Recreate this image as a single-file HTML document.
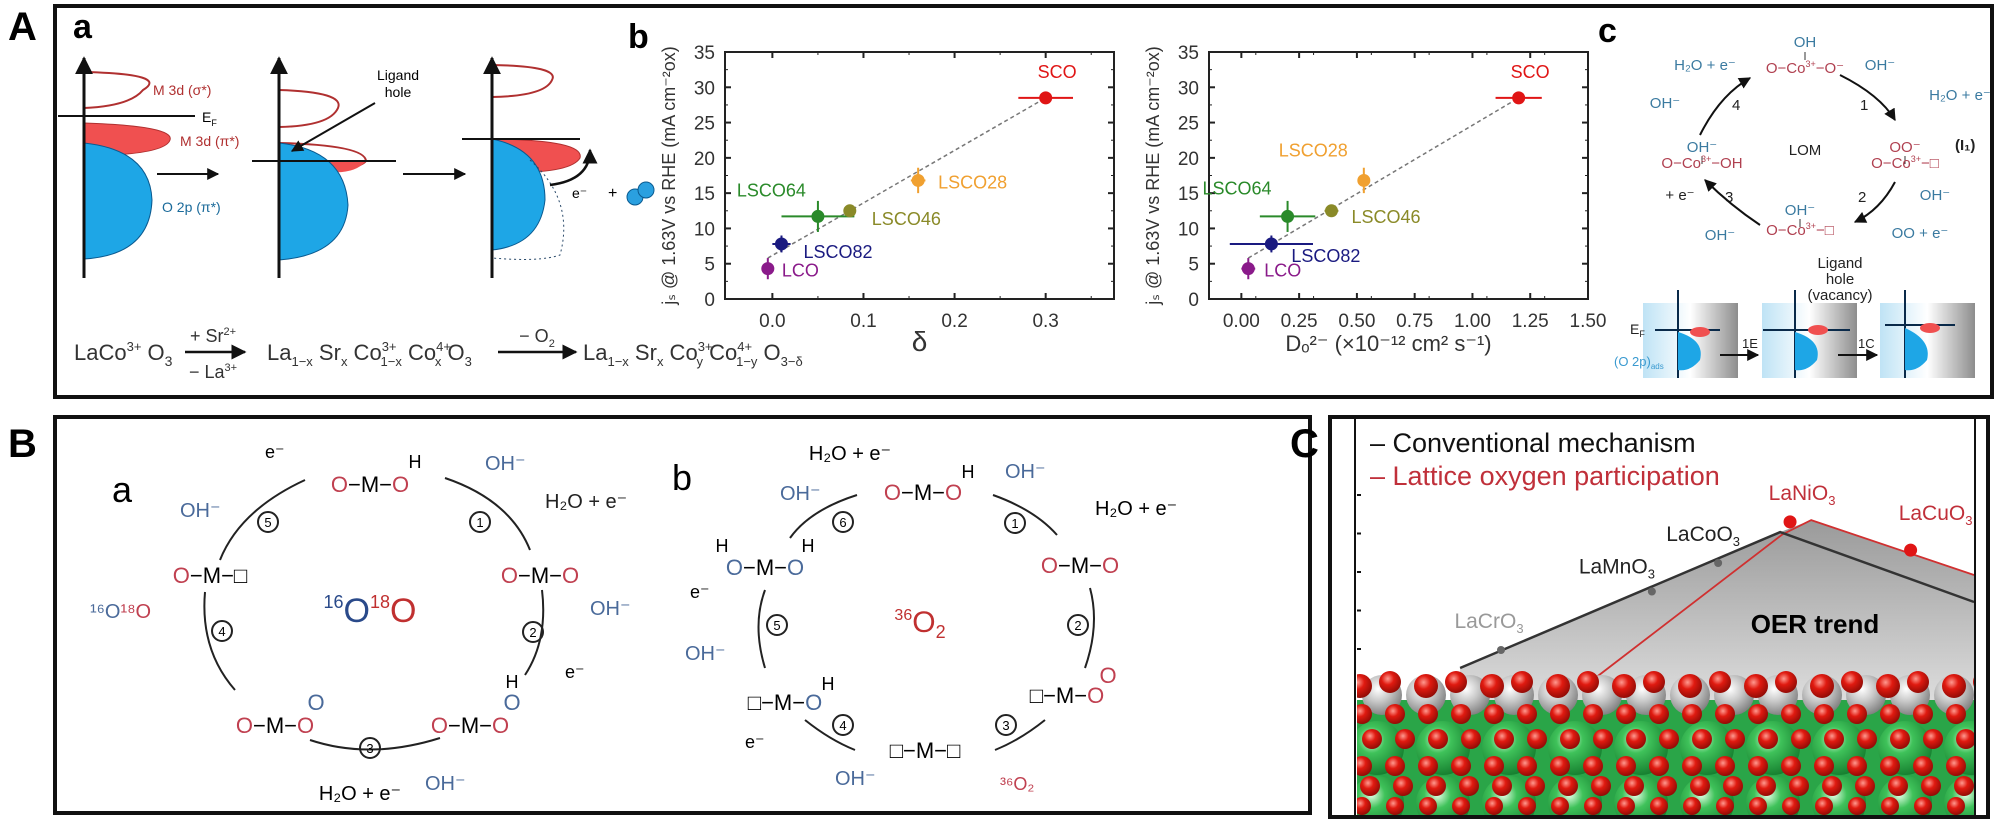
<!DOCTYPE html>
<html><head><meta charset="utf-8">
<style>
html,body{margin:0;padding:0;background:#fff;}
svg{display:block;font-family:"Liberation Sans",sans-serif;}
</style></head>
<body>
<svg id="fig" width="2001" height="823" viewBox="0 0 2001 823" xmlns="http://www.w3.org/2000/svg">
<defs>
<marker id="ah" viewBox="0 0 10 10" refX="9" refY="5" markerWidth="6" markerHeight="6" orient="auto"><path d="M0,0L10,5L0,10z" fill="#111"/></marker>
<linearGradient id="oerg" x1="0" y1="0" x2="0" y2="1"><stop offset="0" stop-color="#9a9a9a"/><stop offset="1" stop-color="#f6f6f6"/></linearGradient>
<linearGradient id="bandg" x1="0" y1="0" x2="1" y2="0"><stop offset="0" stop-color="#bfe3f5"/><stop offset="0.5" stop-color="#ffffff"/><stop offset="1" stop-color="#8d8d8d"/></linearGradient>
<radialGradient id="green" cx="0.4" cy="0.35" r="0.7"><stop offset="0" stop-color="#e6ffe8"/><stop offset="0.35" stop-color="#3fc25a"/><stop offset="1" stop-color="#137a2c"/></radialGradient>
<radialGradient id="red" cx="0.4" cy="0.35" r="0.7"><stop offset="0" stop-color="#ff9a90"/><stop offset="0.4" stop-color="#e01a10"/><stop offset="1" stop-color="#8a0a05"/></radialGradient>
<radialGradient id="gray" cx="0.4" cy="0.35" r="0.7"><stop offset="0" stop-color="#ffffff"/><stop offset="0.45" stop-color="#c8c8c8"/><stop offset="1" stop-color="#7a7a7a"/></radialGradient>
<clipPath id="cclip"><rect x="1357" y="419" width="618" height="396"/></clipPath>
</defs>

<text x="8" y="40" font-size="40" font-weight="bold">A</text>
<rect x="55" y="6" width="1937" height="391" fill="none" stroke="#111" stroke-width="4"/>
<text x="8" y="457" font-size="40" font-weight="bold">B</text>
<rect x="55" y="417" width="1255" height="396" fill="none" stroke="#111" stroke-width="4"/>
<text x="1290" y="457" font-size="40" font-weight="bold">C</text>
<rect x="1330" y="417" width="658" height="400" fill="none" stroke="#111" stroke-width="4"/>

<g>
<text x="73" y="38" font-size="34" font-weight="bold">a</text>
<path d="M84,72 Q170,74 143,90 Q130,106 84,108" fill="none" stroke="#b03030" stroke-width="2"/>
<path d="M84,123 Q175,126 170,140 Q165,155 84,156 Z" fill="#f05050" stroke="#b03030"/>
<path d="M84,143 Q150,150 152,200 Q150,255 84,259 Z" fill="#1ea6e6" stroke="#0a5a90"/>
<line x1="84" y1="278" x2="84" y2="58" stroke="#111" stroke-width="3" marker-end="url(#ah)"/>
<line x1="58" y1="116" x2="195" y2="116" stroke="#111" stroke-width="2"/>
<text x="153" y="95" font-size="14" fill="#b03030">M 3d (σ*)</text>
<text x="202" y="122" font-size="14">E<tspan font-size="9" dy="4">F</tspan></text>
<text x="180" y="146" font-size="14" fill="#b03030">M 3d (π*)</text>
<text x="162" y="212" font-size="14" fill="#1a6a9a">O 2p (π*)</text>
<line x1="157" y1="174" x2="218" y2="174" stroke="#111" stroke-width="2" marker-end="url(#ah)"/>
<path d="M279,90 Q345,92 338,108 Q330,126 279,127" fill="none" stroke="#b03030" stroke-width="2"/>
<path d="M279,143 Q365,145 366,161 Q355,174 279,170" fill="none" stroke="#b03030" stroke-width="2"/>
<path d="M330,161 L366,161 Q355,174 330,172 Z" fill="#f05050"/>
<path d="M279,143 Q345,150 348,205 Q345,255 279,260 Z" fill="#1ea6e6" stroke="#0a5a90"/>
<line x1="279" y1="278" x2="279" y2="58" stroke="#111" stroke-width="3" marker-end="url(#ah)"/>
<line x1="252" y1="161" x2="396" y2="161" stroke="#111" stroke-width="2"/>
<text x="398" y="80" font-size="14" text-anchor="middle">Ligand</text>
<text x="398" y="97" font-size="14" text-anchor="middle">hole</text>
<line x1="375" y1="103" x2="292" y2="151" stroke="#111" stroke-width="2" marker-end="url(#ah)"/>
<line x1="403" y1="174" x2="465" y2="174" stroke="#111" stroke-width="2" marker-end="url(#ah)"/>
<path d="M492,65 Q560,66 552,80 Q545,96 492,97" fill="none" stroke="#b03030" stroke-width="2"/>
<path d="M492,139 Q585,140 580,158 Q570,175 492,172 Z" fill="#f05050" stroke="#b03030"/>
<path d="M492,139 Q545,150 545,200 Q540,245 492,250 Z" fill="#1ea6e6" stroke="#0a5a90"/>
<path d="M530,160 Q575,200 560,255 Q540,262 492,258" fill="none" stroke="#2a4a6a" stroke-dasharray="2,3"/>
<line x1="492" y1="278" x2="492" y2="58" stroke="#111" stroke-width="3" marker-end="url(#ah)"/>
<line x1="462" y1="139" x2="580" y2="139" stroke="#111" stroke-width="2"/>
<path d="M550,185 Q590,180 590,150" fill="none" stroke="#111" stroke-width="2.5" marker-end="url(#ah)"/>
<text x="572" y="198" font-size="14">e⁻</text>
<text x="608" y="198" font-size="16">+</text>
<circle cx="635" cy="197" r="8" fill="#2aa0e0" stroke="#0a5a90"/>
<circle cx="646" cy="190" r="8" fill="#2aa0e0" stroke="#0a5a90"/>
</g>

<g font-size="22" fill="#333">
<text x="74" y="360">LaCo<tspan font-size="13" dy="-9">3+</tspan><tspan dy="9"> O</tspan><tspan font-size="14" dy="6">3</tspan></text>
<line x1="185" y1="352" x2="245" y2="352" stroke="#111" stroke-width="2.5" marker-end="url(#ah)"/>
<text x="213" y="342" font-size="18" text-anchor="middle">+ Sr<tspan font-size="11" dy="-7">2+</tspan></text>
<text x="213" y="378" font-size="18" text-anchor="middle">− La<tspan font-size="11" dy="-7">3+</tspan></text>
<text x="267" y="360">La<tspan font-size="13" dy="6">1−x</tspan><tspan dy="-6"> Sr</tspan><tspan font-size="13" dy="6">x</tspan><tspan dy="-6"> Co</tspan><tspan font-size="13" dy="-9">3+</tspan><tspan font-size="13" dx="-16" dy="15">1−x</tspan><tspan dy="-6"> Co</tspan><tspan font-size="13" dy="-9">4+</tspan><tspan font-size="13" dx="-16" dy="15">x</tspan><tspan dy="-6"> O</tspan><tspan font-size="13" dy="6">3</tspan></text>
<line x1="498" y1="352" x2="576" y2="352" stroke="#111" stroke-width="2.5" marker-end="url(#ah)"/>
<text x="537" y="342" font-size="18" text-anchor="middle">− O<tspan font-size="11" dy="5">2</tspan></text>
<text x="583" y="360">La<tspan font-size="13" dy="6">1−x</tspan><tspan dy="-6"> Sr</tspan><tspan font-size="13" dy="6">x</tspan><tspan dy="-6"> Co</tspan><tspan font-size="13" dy="-9">3+</tspan><tspan font-size="13" dx="-16" dy="15">y</tspan><tspan dy="-6"> Co</tspan><tspan font-size="13" dy="-9">4+</tspan><tspan font-size="13" dx="-16" dy="15">1−y</tspan><tspan dy="-6"> O</tspan><tspan font-size="13" dy="6">3−δ</tspan></text>
</g>

<text x="628" y="48" font-size="34" font-weight="bold">b</text>
<g id="chart1"></g>
<g id="chart2"></g>

<g font-size="15">
<text x="1598" y="42" font-size="34" font-weight="bold">c</text>
<text x="1805" y="47" text-anchor="middle" fill="#3a7aa0">OH</text>
<line x1="1805" y1="52" x2="1805" y2="60" stroke="#333"/>
<text x="1805" y="73" text-anchor="middle" fill="#b04050">O−Co<tspan font-size="9" dy="-6">3+</tspan><tspan dy="6">−O⁻</tspan></text>
<text x="1702" y="152" text-anchor="middle" fill="#3a7aa0">OH⁻</text>
<line x1="1702" y1="156" x2="1702" y2="164" stroke="#333"/>
<text x="1702" y="168" text-anchor="middle" fill="#b04050">O−Co<tspan font-size="9" dy="-6">3+</tspan><tspan dy="6">−OH</tspan></text>
<text x="1905" y="152" text-anchor="middle" fill="#b04050">OO⁻</text>
<text x="1955" y="150" font-weight="bold" fill="#222">(I₁)</text>
<line x1="1905" y1="156" x2="1905" y2="164" stroke="#333"/>
<text x="1905" y="168" text-anchor="middle" fill="#b04050">O−Co<tspan font-size="9" dy="-6">3+</tspan><tspan dy="6">−□</tspan></text>
<text x="1800" y="215" text-anchor="middle" fill="#3a7aa0">OH⁻</text>
<line x1="1800" y1="219" x2="1800" y2="227" stroke="#333"/>
<text x="1800" y="235" text-anchor="middle" fill="#b04050">O−Co<tspan font-size="9" dy="-6">3+</tspan><tspan dy="6">−□</tspan></text>
<text x="1805" y="155" text-anchor="middle" fill="#222">LOM</text>
<text x="1705" y="70" text-anchor="middle" fill="#3a7aa0">H₂O + e⁻</text>
<text x="1880" y="70" text-anchor="middle" fill="#3a7aa0">OH⁻</text>
<text x="1960" y="100" text-anchor="middle" fill="#3a7aa0">H₂O + e⁻</text>
<text x="1665" y="108" text-anchor="middle" fill="#3a7aa0">OH⁻</text>
<text x="1732" y="110" fill="#222">4</text><text x="1860" y="110" fill="#222">1</text>
<text x="1725" y="202" fill="#222">3</text><text x="1858" y="202" fill="#222">2</text>
<text x="1680" y="200" text-anchor="middle" fill="#222">+ e⁻</text>
<text x="1935" y="200" text-anchor="middle" fill="#3a7aa0">OH⁻</text>
<text x="1720" y="240" text-anchor="middle" fill="#3a7aa0">OH⁻</text>
<text x="1920" y="238" text-anchor="middle" fill="#3a7aa0">OO + e⁻</text>
<path d="M1840,75 Q1880,95 1895,120" fill="none" stroke="#111" stroke-width="2" marker-end="url(#ah)"/>
<path d="M1895,182 Q1880,210 1855,222" fill="none" stroke="#111" stroke-width="2" marker-end="url(#ah)"/>
<path d="M1760,225 Q1730,205 1705,180" fill="none" stroke="#111" stroke-width="2" marker-end="url(#ah)"/>
<path d="M1700,135 Q1720,95 1750,78" fill="none" stroke="#111" stroke-width="2" marker-end="url(#ah)"/>
<text x="1840" y="268" text-anchor="middle" fill="#222">Ligand</text>
<text x="1840" y="284" text-anchor="middle" fill="#222">hole</text>
<text x="1840" y="300" text-anchor="middle" fill="#222">(vacancy)</text>
<rect x="1643" y="303" width="95" height="75" fill="url(#bandg)"/>
<rect x="1762" y="303" width="95" height="75" fill="url(#bandg)"/>
<rect x="1880" y="303" width="95" height="75" fill="url(#bandg)"/>
<g stroke="#0a2a4a" stroke-width="2">
<line x1="1678" y1="378" x2="1678" y2="290"/><line x1="1795" y1="378" x2="1795" y2="290"/><line x1="1905" y1="378" x2="1905" y2="290"/>
<line x1="1655" y1="330" x2="1720" y2="330"/><line x1="1763" y1="330" x2="1850" y2="330"/><line x1="1885" y1="325" x2="1955" y2="325"/>
</g>
<path d="M1678,332 Q1705,340 1700,360 Q1690,372 1678,370Z" fill="#1ea6e6"/>
<path d="M1795,332 Q1822,340 1817,360 Q1807,372 1795,370Z" fill="#1ea6e6"/>
<path d="M1905,328 Q1932,340 1927,360 Q1917,372 1905,370Z" fill="#1ea6e6"/>
<ellipse cx="1700" cy="332" rx="10" ry="5" fill="#f05050"/><ellipse cx="1818" cy="330" rx="10" ry="5" fill="#f05050"/><ellipse cx="1930" cy="328" rx="10" ry="5" fill="#f05050"/>
<text x="1630" y="334" font-size="14" fill="#222">E<tspan font-size="9" dy="3">F</tspan></text>
<text x="1614" y="366" font-size="13" fill="#3a9ad0">(O 2p)<tspan font-size="8" dy="3">ads</tspan></text>
<text x="1742" y="348" font-size="13" fill="#222">1E</text>
<text x="1858" y="348" font-size="13" fill="#222">1C</text>
<line x1="1720" y1="355" x2="1758" y2="355" stroke="#111" stroke-width="2" marker-end="url(#ah)"/>
<line x1="1838" y1="355" x2="1877" y2="355" stroke="#111" stroke-width="2" marker-end="url(#ah)"/>
</g>

<g font-size="22">
<text x="112" y="502" font-size="36">a</text>
<text x="370" y="492" text-anchor="middle"><tspan fill="#c04050">O</tspan>−M−<tspan fill="#c04050">O</tspan></text>
<text x="415" y="468" font-size="18" text-anchor="middle">H</text>
<text x="210" y="583" text-anchor="middle"><tspan fill="#c04050">O</tspan>−M−□</text>
<text x="540" y="583" text-anchor="middle"><tspan fill="#c04050">O</tspan>−M−<tspan fill="#c04050">O</tspan></text>
<text x="275" y="733" text-anchor="middle"><tspan fill="#c04050">O</tspan>−M−<tspan fill="#c04050">O</tspan></text>
<text x="316" y="710" text-anchor="middle" fill="#4a6a9a">O</text>
<text x="470" y="733" text-anchor="middle"><tspan fill="#c04050">O</tspan>−M−<tspan fill="#c04050">O</tspan></text>
<text x="512" y="710" text-anchor="middle" fill="#4a6a9a">O</text>
<text x="512" y="688" font-size="18" text-anchor="middle">H</text>
<text x="370" y="622" font-size="34" text-anchor="middle"><tspan font-size="18" dy="-14" fill="#2a4a8a">16</tspan><tspan dy="14" fill="#2a4a8a">O</tspan><tspan font-size="18" dy="-14" fill="#c03030">18</tspan><tspan dy="14" fill="#c03030">O</tspan></text>
<text x="485" y="470" font-size="20" fill="#4a6a9a">OH⁻</text>
<text x="545" y="508" font-size="20" fill="#222">H₂O + e⁻</text>
<text x="590" y="615" font-size="20" fill="#4a6a9a">OH⁻</text>
<text x="565" y="678" font-size="18">e⁻</text>
<text x="360" y="800" font-size="20" text-anchor="middle">H₂O + e⁻</text>
<text x="425" y="790" font-size="20" fill="#4a6a9a">OH⁻</text>
<text x="180" y="517" font-size="20" fill="#4a6a9a">OH⁻</text>
<text x="265" y="458" font-size="18">e⁻</text>
<text x="90" y="618" font-size="20"><tspan fill="#4a6a9a">¹⁶O</tspan><tspan fill="#c04050">¹⁸O</tspan></text>
<g fill="none" stroke="#222" stroke-width="2">
<path d="M445,478 Q510,500 530,550"/><path d="M220,560 Q240,510 305,480"/>
<path d="M542,590 Q548,640 525,675"/><path d="M205,592 Q200,650 235,690"/>
<path d="M310,740 Q370,760 440,738"/>
<circle cx="480" cy="522" r="10"/><circle cx="533" cy="632" r="10"/><circle cx="370" cy="748" r="10"/><circle cx="222" cy="631" r="10"/><circle cx="268" cy="522" r="10"/>
</g>
<g font-size="13" text-anchor="middle"><text x="480" y="527">1</text><text x="533" y="637">2</text><text x="370" y="753">3</text><text x="222" y="636">4</text><text x="268" y="527">5</text></g>
</g>

<g font-size="22">
<text x="672" y="490" font-size="36">b</text>
<text x="923" y="500" text-anchor="middle"><tspan fill="#c04050">O</tspan>−M−<tspan fill="#c04050">O</tspan></text>
<text x="968" y="478" font-size="18" text-anchor="middle">H</text>
<text x="1080" y="573" text-anchor="middle"><tspan fill="#c04050">O</tspan>−M−<tspan fill="#c04050">O</tspan></text>
<text x="765" y="575" text-anchor="middle"><tspan fill="#4a6a9a">O</tspan>−M−<tspan fill="#4a6a9a">O</tspan></text>
<text x="722" y="552" font-size="18" text-anchor="middle">H</text><text x="808" y="552" font-size="18" text-anchor="middle">H</text>
<text x="920" y="632" font-size="30" text-anchor="middle" fill="#c03030"><tspan font-size="16" dy="-12">36</tspan><tspan dy="12">O</tspan><tspan font-size="18" dy="6">2</tspan></text>
<text x="1067" y="703" text-anchor="middle">□−M−<tspan fill="#c04050">O</tspan></text>
<text x="1108" y="683" text-anchor="middle" fill="#c04050">O</text>
<text x="925" y="758" text-anchor="middle">□−M−□</text>
<text x="785" y="710" text-anchor="middle">□−M−<tspan fill="#4a6a9a">O</tspan></text>
<text x="828" y="690" font-size="18" text-anchor="middle">H</text>
<text x="850" y="460" font-size="20" text-anchor="middle">H₂O + e⁻</text>
<text x="780" y="500" font-size="20" fill="#4a6a9a">OH⁻</text>
<text x="1005" y="478" font-size="20" fill="#4a6a9a">OH⁻</text>
<text x="1095" y="515" font-size="20">H₂O + e⁻</text>
<text x="690" y="598" font-size="18">e⁻</text>
<text x="685" y="660" font-size="20" fill="#4a6a9a">OH⁻</text>
<text x="745" y="748" font-size="18">e⁻</text>
<text x="835" y="785" font-size="20" fill="#4a6a9a">OH⁻</text>
<text x="1000" y="790" font-size="18" fill="#c04050">³⁶O₂</text>
<g fill="none" stroke="#222" stroke-width="2">
<path d="M993,495 Q1035,510 1057,535"/><path d="M790,538 Q810,510 857,495"/>
<path d="M1090,588 Q1100,625 1085,668"/><path d="M765,590 Q752,625 765,668"/>
<path d="M995,750 Q1020,740 1045,720"/><path d="M855,750 Q830,740 805,720"/>
<circle cx="1015" cy="523" r="10"/><circle cx="1078" cy="625" r="10"/><circle cx="1006" cy="725" r="10"/><circle cx="843" cy="725" r="10"/><circle cx="777" cy="625" r="10"/><circle cx="843" cy="522" r="10"/>
</g>
<g font-size="13" text-anchor="middle"><text x="1015" y="528">1</text><text x="1078" y="630">2</text><text x="1006" y="730">3</text><text x="843" y="730">4</text><text x="777" y="630">5</text><text x="843" y="527">6</text></g>
</g>

<g id="panelC">
<g id="oerChart" clip-path="url(#cclip)"></g>
<g id="atoms" clip-path="url(#cclip)"></g>
<line x1="1355" y1="419" x2="1355" y2="815" stroke="#111" stroke-width="2"/>
<line x1="1975" y1="419" x2="1975" y2="815" stroke="#111" stroke-width="2"/>
<text x="1370" y="452" font-size="27" fill="#111">– Conventional mechanism</text>
<text x="1370" y="485" font-size="27" fill="#c0303a">– Lattice oxygen participation</text>
<text x="1815" y="633" font-size="26" font-weight="bold" text-anchor="middle">OER trend</text>
</g>
</svg>

<script>
var samples = ["LCO","LSCO82","LSCO64","LSCO46","LSCO28","SCO"];
var colors = ["#8a1a8a","#1a1a80","#2a8a2a","#8a8a28","#f0a030","#e01515"];
var jVals = [4.3, 7.8, 11.7, 12.5, 16.8, 28.5];
var jErr = [1.5, 1.2, 2.2, 0.6, 1.8, 0.6];
var deltaVals = [-0.005, 0.01, 0.05, 0.085, 0.16, 0.30];
var deltaErr = [0.004, 0.01, 0.04, 0.005, 0.008, 0.03];
var diffVals = [0.03, 0.13, 0.20, 0.39, 0.53, 1.20];
var diffErr = [0.03, 0.18, 0.12, 0.03, 0.02, 0.1];
var yTicks = [0,5,10,15,20,25,30,35];
var deltaTicks = ["0.0","0.1","0.2","0.3"];
var diffTicks = ["0.00","0.25","0.50","0.75","1.00","1.25","1.50"];
// Panel C data (descriptor position, activity)
var oerMaterials = ["LaCrO3","LaMnO3","LaCoO3","LaNiO3","LaCuO3"];
var oerDescriptor = [1.0, 3.14, 4.08, 5.1, 6.81];
var oerActivity = [3.0, 4.95, 5.9, 7.27, 6.33];
var oerIsLattice = [false, false, false, true, true];
var convLineX = [0.42, 4.96, 7.71];
var convLineY = [2.4, 6.93, 4.6];
var latLineX = [2.3, 4.99, 5.4, 7.71];
var latLineY = [2.0, 6.85, 7.33, 5.5];

var NS="http://www.w3.org/2000/svg";
function mk(tag, attrs, parent){var e=document.createElementNS(NS,tag);for(var k in attrs)e.setAttribute(k,attrs[k]);parent.appendChild(e);return e;}
function drawChart(g, cfg){
  var L=cfg.L,R=cfg.R,T=52,B=299;
  function sx(v){return L+(v-cfg.x0)/(cfg.x1-cfg.x0)*(R-L);}
  function sy(v){return B-(v/35)*(B-T);}
  mk("rect",{x:L,y:T,width:R-L,height:B-T,fill:"none",stroke:"#222","stroke-width":2},g);
  yTicks.forEach(function(v){
    var t=mk("text",{x:L-10,y:sy(v)+7,"font-size":19,"text-anchor":"end",fill:"#333"},g);t.textContent=v;
    mk("line",{x1:L,y1:sy(v),x2:L+6,y2:sy(v),stroke:"#222","stroke-width":2},g);
    mk("line",{x1:R,y1:sy(v),x2:R-6,y2:sy(v),stroke:"#222","stroke-width":2},g);
    if(v!==35){mk("line",{x1:L,y1:sy(v+2.5),x2:L+3,y2:sy(v+2.5),stroke:"#222"},g);mk("line",{x1:R,y1:sy(v+2.5),x2:R-3,y2:sy(v+2.5),stroke:"#222"},g);}
  });
  cfg.ticks.forEach(function(s){
    var v=parseFloat(s);
    var t=mk("text",{x:sx(v),y:B+28,"font-size":19,"text-anchor":"middle",fill:"#333"},g);t.textContent=s;
    mk("line",{x1:sx(v),y1:B,x2:sx(v),y2:B-6,stroke:"#222","stroke-width":2},g);
    mk("line",{x1:sx(v),y1:T,x2:sx(v),y2:T+6,stroke:"#222","stroke-width":2},g);
    var h=v+cfg.step/2; if(h < cfg.x1){mk("line",{x1:sx(h),y1:B,x2:sx(h),y2:B-3,stroke:"#222"},g);mk("line",{x1:sx(h),y1:T,x2:sx(h),y2:T+3,stroke:"#222"},g);}
  });
  mk("line",{x1:sx(cfg.xs[0]),y1:sy(jVals[0]+1.5),x2:sx(cfg.xs[5]),y2:sy(jVals[5]),stroke:"#777","stroke-width":1.5,"stroke-dasharray":"4,3"},g);
  for(var i=0;i!==samples.length;i++){
    var x=sx(cfg.xs[i]),y=sy(jVals[i]),c=colors[i];
    var pt=mk("g",{},g);
    
    
    mk("line",{x1:sx(cfg.xs[i]-cfg.xe[i]),y1:y,x2:sx(cfg.xs[i]+cfg.xe[i]),y2:y,stroke:c,"stroke-width":2},pt);
    mk("line",{x1:x,y1:sy(jVals[i]-jErr[i]),x2:x,y2:sy(jVals[i]+jErr[i]),stroke:c,"stroke-width":2},pt);
    mk("circle",{cx:x,cy:y,r:6.5,fill:c},pt);
    var lp=cfg.lab[i];
    var t=mk("text",{x:x+lp[0],y:y+lp[1],"font-size":18,fill:c,"text-anchor":lp[2]||"start"},pt);t.textContent=samples[i];
  }
  var yl=mk("text",{x:0,y:0,"font-size":18,fill:"#333","text-anchor":"middle",transform:"translate("+(L-50)+","+((T+B)/2)+") rotate(-90)"},g);
  yl.textContent="j\u209B @ 1.63V vs RHE (mA cm\u207B\u00B2ox)";
  
  var xl=mk("text",{x:(L+R)/2+cfg.xlOff,y:B+52,"font-size":cfg.xlSize,fill:"#333","text-anchor":"middle"},g);
  xl.textContent=cfg.xlabel;
  
}
drawChart(document.getElementById("chart1"),{L:725,R:1114,x0:-0.052,x1:0.375,step:0.1,ticks:deltaTicks,xs:deltaVals,xe:deltaErr,
  lab:[[14,8],[22,14],[-12,-20,"end"],[22,14],[20,8],[-8,-20,"start"]],xlabel:"δ",xlOff:0,xlSize:28});
drawChart(document.getElementById("chart2"),{L:1209,R:1588,x0:-0.14,x1:1.5,step:0.125,ticks:diffTicks,xs:diffVals,xe:diffErr,
  lab:[[16,8],[20,18],[-16,-22,"end"],[20,12],[-16,-24,"end"],[-8,-20,"start"]],xlabel:"D\u2092\u00B2\u207B (\u00D710\u207B\u00B9\u00B2 cm\u00B2 s\u207B\u00B9)",xlOff:-10,xlSize:22});

(function(){
  var g=document.getElementById("oerChart");
  function sx(v){return 1501+(v-1)*70.5;}
  function sy(v){return 740-v*30;}
  function pts(xs,ys){var s=[];for(var i=0;i!==xs.length;i++)s.push(sx(xs[i])+","+sy(ys[i]));return s.join(" ");}
  for(var k=1;k!==7;k++){mk("line",{x1:1355,y1:495+(k-1)*38.5,x2:1361,y2:495+(k-1)*38.5,stroke:"#111","stroke-width":2},g);}
  // gray area under the envelope of both trend lines
  var fill="M"+sx(convLineX[0])+","+sy(convLineY[0])+" L"+sx(convLineX[1])+","+sy(convLineY[1])+" L"+sx(latLineX[2])+","+sy(latLineY[2])+" L"+sx(latLineX[3])+","+sy(latLineY[3])+" L"+sx(latLineX[3])+",770 L"+sx(convLineX[0])+",770Z";
  mk("path",{d:fill,fill:"url(#oerg)"},g);
  var rl=mk("polyline",{points:pts(latLineX,latLineY),fill:"none",stroke:"#d03030","stroke-width":1.8},g);
  
  var bl=mk("polyline",{points:pts(convLineX,convLineY),fill:"none",stroke:"#333","stroke-width":2.5},g);
  
  var labOff=[[-12,-22],[-35,-18],[-15,-22],[12,-22],[25,-30]];
  var labCol=["#999","#222","#222","#c0303a","#c0303a"];
  for(var i=0;i!==oerMaterials.length;i++){
    var lat=oerIsLattice[i];
    var x=sx(oerDescriptor[i]), y=sy(oerActivity[i]);
    var c=mk("circle",{cx:x,cy:y,r:lat?6.5:4,fill:lat?"#e01515":"#666"},g);
    
    var t=mk("text",{x:x+labOff[i][0],y:y+labOff[i][1],"font-size":21,fill:labCol[i],"text-anchor":"middle"},g);
    t.textContent=oerMaterials[i].slice(0,-1); var s=mk("tspan",{"font-size":13,dy:5},t); s.textContent="3";
    
  }
})();
(function(){
  var g=document.getElementById("atoms");
  mk("rect",{x:1357,y:700,width:618,height:115,fill:"#2aa548"},g);
  var x;
  for(x=1362;x <= 1990;x+=44){mk("circle",{cx:x+20,cy:695,r:20,fill:"url(#gray)"},g);}
  for(x=1360;x <= 1990;x+=66){mk("circle",{cx:x,cy:686,r:12,fill:"url(#red)"},g);mk("circle",{cx:x+30,cy:682,r:11,fill:"url(#red)"},g);}
  for(x=1362;x <= 1990;x+=66){mk("circle",{cx:x+15,cy:748,r:27,fill:"url(#green)"},g);mk("circle",{cx:x+15,cy:803,r:27,fill:"url(#green)"},g);}
  for(x=1362;x <= 1990;x+=33){mk("circle",{cx:x,cy:714,r:10,fill:"url(#red)"},g);mk("circle",{cx:x+10,cy:739,r:10,fill:"url(#red)"},g);mk("circle",{cx:x,cy:766,r:10,fill:"url(#red)"},g);mk("circle",{cx:x+8,cy:786,r:10,fill:"url(#red)"},g);mk("circle",{cx:x,cy:806,r:9,fill:"url(#red)"},g);}
})();
</script>
</body></html>
